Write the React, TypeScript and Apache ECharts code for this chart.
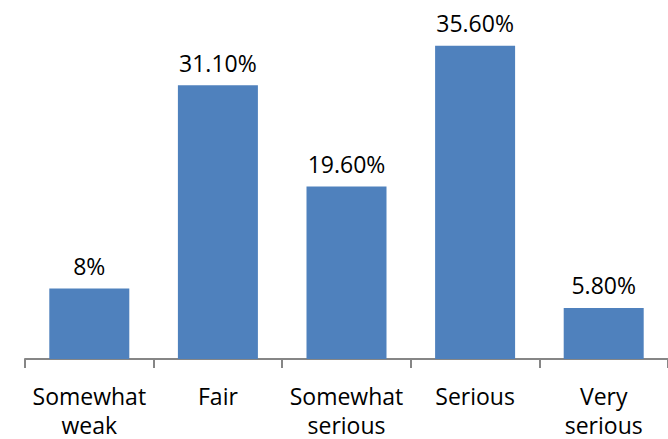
import React, { useEffect, useRef } from "react";
import * as echarts from "echarts";

const categories = ["Somewhat\nweak", "Fair", "Somewhat\nserious", "Serious", "Very\nserious"];
const values = [8, 31.1, 19.6, 35.6, 5.8];
const valueLabels = ["8%", "31.10%", "19.60%", "35.60%", "5.80%"];

const FONT = "'Open Sans', 'Noto Sans', sans-serif";

export default function App() {
  const ref = useRef<HTMLDivElement>(null);

  useEffect(() => {
    if (!ref.current) return;
    const chart = echarts.init(ref.current, null, { renderer: "svg" });
    chart.setOption({
      animation: false,
      backgroundColor: "#ffffff",
      grid: { left: 25, right: -1, top: 7, bottom: 80, containLabel: false },
      xAxis: {
        type: "category",
        data: categories,
        axisLine: { lineStyle: { color: "#868686", width: 2 } },
        axisTick: { show: true, length: 9, lineStyle: { color: "#868686", width: 2 } },
        axisLabel: {
          color: "#000000",
          fontFamily: FONT,
          fontSize: 23,
          lineHeight: 29,
          margin: 22,
          interval: 0,
        },
      },
      yAxis: {
        type: "value",
        min: 0,
        max: 40,
        show: false,
        splitLine: { show: false },
      },
      series: [
        {
          type: "bar",
          data: values,
          barWidth: 80,
          itemStyle: { color: "#4F81BD" },
          label: {
            show: true,
            position: "top",
            distance: 11,
            color: "#000000",
            fontFamily: FONT,
            fontSize: 23,
            formatter: (p: any) => valueLabels[p.dataIndex],
          },
        },
      ],
    });
    return () => chart.dispose();
  }, []);

  return <div ref={ref} style={{ width: 668, height: 439, position: "absolute", left: 0, top: 0 }} />;
}
